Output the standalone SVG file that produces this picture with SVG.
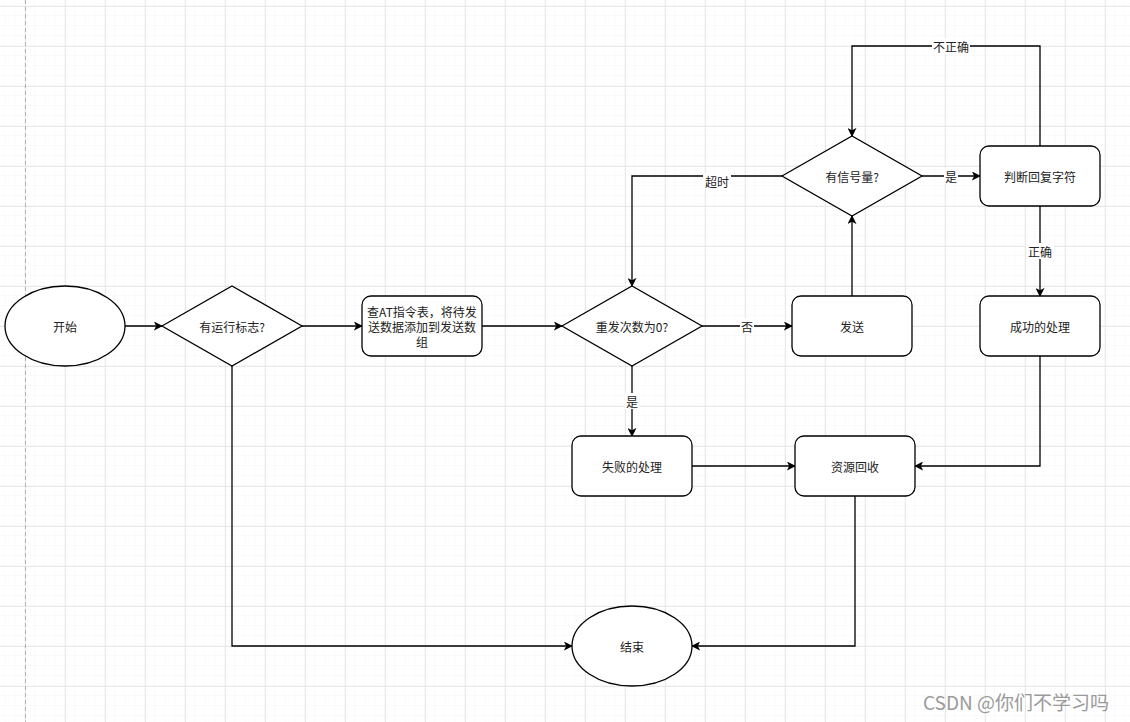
<svg xmlns="http://www.w3.org/2000/svg" width="1130" height="722" viewBox="0 0 1130 722">
<defs>
<pattern id="minor" x="5" y="6" width="10" height="10" patternUnits="userSpaceOnUse">
<path d="M10 0V10M0 10H10" fill="none" stroke="#f4f4f4" stroke-width="1"/>
</pattern>
<pattern id="major" x="25" y="6" width="40" height="40" patternUnits="userSpaceOnUse">
<path d="M0.5 0V40M0 0.5H40" fill="none" stroke="#e8e8e8" stroke-width="1"/>
</pattern>
<marker id="arr" viewBox="0 0 10 10" refX="9" refY="5" markerWidth="9" markerHeight="9" markerUnits="userSpaceOnUse" orient="auto">
<path d="M0 0L10 5L0 10L2.5 5Z" fill="#000"/>
</marker>
</defs>
<style>
.n{fill:#fff;stroke:#000;stroke-width:1.3}
.t{font-family:"Noto Sans CJK SC","Liberation Sans",sans-serif;font-size:12px;fill:#222;text-anchor:middle;dominant-baseline:central}
.e{fill:none;stroke:#000;stroke-width:1.3;marker-end:url(#arr)}
.lb{fill:#fff}
</style>
<rect width="1130" height="722" fill="#fff"/>
<rect width="1130" height="722" fill="url(#minor)"/>
<rect width="1130" height="722" fill="url(#major)"/>
<line x1="25.5" y1="0" x2="25.5" y2="722" stroke="#b0b0b0" stroke-width="1" stroke-dasharray="4 3"/>
<g id="connectors">
<path class="e" d="M125 326H162"/>
<path class="e" d="M302 326H362"/>
<path class="e" d="M232 366V646H572"/>
<path class="e" d="M482 326H562"/>
<path class="e" d="M702 326H792"/>
<path class="e" d="M632 366V436"/>
<path class="e" d="M852 296V216"/>
<path class="e" d="M782 176H632V286"/>
<path class="e" d="M922 176H980"/>
<path class="e" d="M1040 146V46H852V136"/>
<path class="e" d="M1040 206V296"/>
<path class="e" d="M1040 356V466H915"/>
<path class="e" d="M692 466H795"/>
<path class="e" d="M855 496V646H692"/>
<rect class="lb" x="740" y="318" width="14" height="16"/>
<text class="t" x="747" y="326">否</text>
<rect class="lb" x="625" y="393" width="14" height="16"/>
<text class="t" x="632" y="401">是</text>
<rect class="lb" x="703" y="173" width="28" height="16"/>
<text class="t" x="717" y="181">超时</text>
<rect class="lb" x="944" y="168" width="14" height="16"/>
<text class="t" x="951" y="176">是</text>
<rect class="lb" x="932" y="38" width="38" height="16"/>
<text class="t" x="951" y="46">不正确</text>
<rect class="lb" x="1026" y="243" width="28" height="16"/>
<text class="t" x="1040" y="251">正确</text>
</g>
<g id="start"><ellipse class="n" cx="65" cy="326" rx="60" ry="40"/><text class="t" x="65" y="326">开始</text></g>
<g id="flag"><path class="n" d="M162 326L232 286L302 326L232 366Z"/><text class="t" x="232" y="326">有运行标志?</text></g>
<g id="lookup"><rect class="n" x="362" y="296" width="120" height="60" rx="9"/><text class="t" x="422" y="311">查AT指令表，将待发</text><text class="t" x="422" y="326">送数据添加到发送数</text><text class="t" x="422" y="341">组</text></g>
<g id="retry"><path class="n" d="M562 326L632 286L702 326L632 366Z"/><text class="t" x="632" y="326">重发次数为0?</text></g>
<g id="send"><rect class="n" x="792" y="296" width="120" height="60" rx="9"/><text class="t" x="852" y="326">发送</text></g>
<g id="sem"><path class="n" d="M782 176L852 136L922 176L852 216Z"/><text class="t" x="852" y="176">有信号量?</text></g>
<g id="judge"><rect class="n" x="980" y="146" width="120" height="60" rx="9"/><text class="t" x="1040" y="176">判断回复字符</text></g>
<g id="success"><rect class="n" x="980" y="296" width="120" height="60" rx="9"/><text class="t" x="1040" y="326">成功的处理</text></g>
<g id="fail"><rect class="n" x="572" y="436" width="120" height="60" rx="9"/><text class="t" x="632" y="466">失败的处理</text></g>
<g id="recycle"><rect class="n" x="795" y="436" width="120" height="60" rx="9"/><text class="t" x="855" y="466">资源回收</text></g>
<g id="end"><ellipse class="n" cx="632" cy="646" rx="60" ry="40"/><text class="t" x="632" y="646">结束</text></g>
<text x="923" y="710" font-family="'Noto Sans CJK SC','Liberation Sans',sans-serif" font-size="19" fill="#9a9a9a">CSDN @你们不学习吗</text>
</svg>
